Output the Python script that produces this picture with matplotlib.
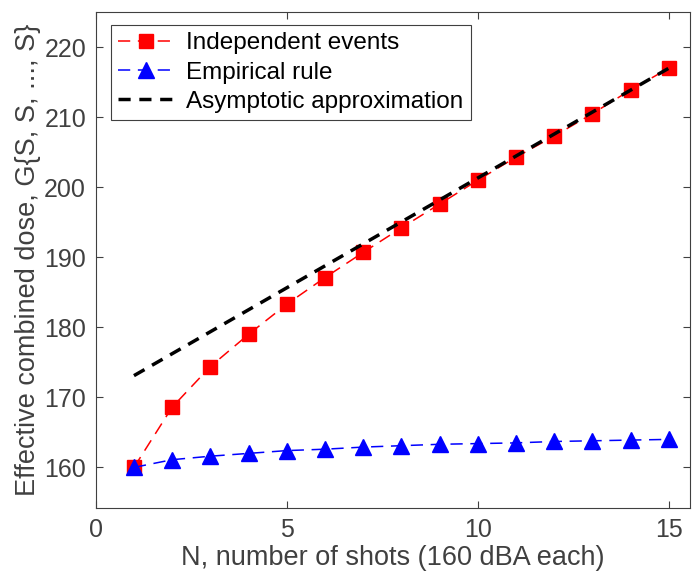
import matplotlib
matplotlib.use("Agg")
import matplotlib.pyplot as plt

plt.rcParams["font.family"] = ["Liberation Sans", "DejaVu Sans"]

shots = [1, 2, 3, 4, 5, 6, 7, 8, 9, 10, 11, 12, 13, 14, 15]
independent = [160.0, 168.6, 174.4, 179.0, 183.3, 187.1, 190.7, 194.2,
               197.6, 201.0, 204.3, 207.3, 210.5, 213.9, 217.0]
empirical = [160.0, 161.1, 161.6, 162.0, 162.4, 162.6, 162.9, 163.1,
             163.3, 163.4, 163.5, 163.7, 163.8, 163.9, 164.0]
asym_shots = [1, 15]
asymptotic = [173.1, 217.0]

axis_gray = "#404040"

fig = plt.figure(figsize=(6.99, 5.76), dpi=100)
ax = fig.add_axes([0.137, 0.118, 0.850, 0.861])

ax.plot(shots, independent, color="red", linestyle=(0, (8, 5)), linewidth=1.1,
        marker="s", markersize=10, markerfacecolor="red", markeredgecolor="red",
        label="Independent events")
ax.plot(shots, empirical, color="blue", linestyle=(0, (8, 5)), linewidth=1.1,
        marker="^", markersize=11, markerfacecolor="blue", markeredgecolor="blue",
        label="Empirical rule")
ax.plot(asym_shots, asymptotic, color="black", linestyle=(0, (3.5, 2.5)), linewidth=2.5,
        label="Asymptotic approximation")

ax.set_xlim(0, 15.55)
ax.set_ylim(154.2, 225)
ax.set_xticks([0, 5, 10, 15])
ax.set_yticks([160, 170, 180, 190, 200, 210, 220])
ax.tick_params(direction="in", top=True, right=True, length=5, width=0.8,
               colors=axis_gray, labelsize=18, labelcolor=axis_gray, pad=7)
for spine in ax.spines.values():
    spine.set_color(axis_gray)
    spine.set_linewidth(0.8)

ax.set_xlabel("N, number of shots (160 dBA each)", fontsize=19.5, color=axis_gray, labelpad=2)
ax.set_ylabel("Effective combined dose, G{S, S, ..., S}", fontsize=19.5, color=axis_gray, labelpad=2)

leg = ax.legend(loc="upper left", bbox_to_anchor=(0.025, 0.974), fontsize=17.5,
                fancybox=False, framealpha=1, edgecolor=axis_gray,
                handlelength=2.3, handletextpad=0.5, borderpad=0.3, labelspacing=0.3,
                borderaxespad=0)
leg.get_frame().set_linewidth(0.8)

fig.savefig("out.png", dpi=100)
